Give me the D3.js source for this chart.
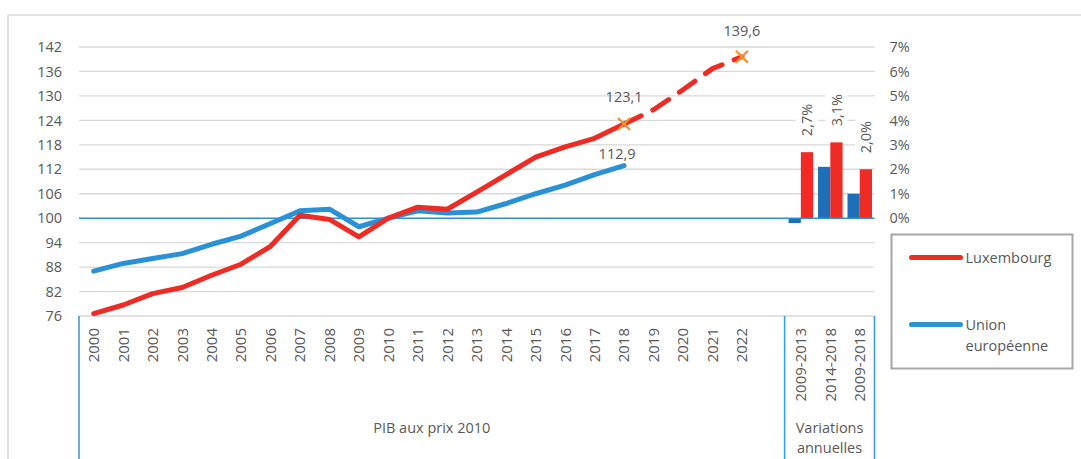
<!DOCTYPE html>
<html>
<head>
<meta charset="utf-8">
<script src="https://cdn.jsdelivr.net/npm/d3@7"></script>
<style>
    body { margin: 0; background: #fff; }
    svg { display: block; font-family: "Open Sans", sans-serif; }
    text { fill: #595959; }
</style>
</head>
<body>
<svg id="chart" width="1081" height="459"></svg>
<script>
// categories on the x axis (one empty slot between the two groups)
const years = ["2000", "2001", "2002", "2003", "2004", "2005", "2006", "2007", "2008", "2009", "2010",
    "2011", "2012", "2013", "2014", "2015", "2016", "2017", "2018", "2019", "2020", "2021", "2022"];
const periods = ["2009-2013", "2014-2018", "2009-2018"];
const categories = years.concat([" "], periods);

// PIB aux prix 2010 (indice 2010 = 100)
const luxValues = [76.6, 78.7, 81.5, 83.0, 86.0, 88.7, 93.1, 100.7, 99.7, 95.4, 100, 102.7, 102.2,
    106.4, 110.7, 115.0, 117.5, 119.6, 123.1, 126.6, 131.5, 136.7, 139.6];
const euValues = [87.0, 88.9, 90.1, 91.3, 93.6, 95.6, 98.7, 101.8, 102.2, 97.9, 100, 101.8, 101.3,
    101.5, 103.6, 106.0, 108.1, 110.7, 112.9];
const lastObserved = "2018";

// variations annuelles (%)
const luxGrowth = [2.7, 3.1, 2.0];
const euGrowth = [-0.2, 2.1, 1.0];

const leftTicks = [76, 82, 88, 94, 100, 106, 112, 118, 124, 130, 136, 142];
const rightTicks = [0, 1, 2, 3, 4, 5, 6, 7];

const red = "#ee2b24", blue = "#2a91d6", barBlue = "#1f6fb8", orange = "#f39230";

const fr = d3.formatLocale({ decimal: ",", thousands: " ", grouping: [3], currency: ["", " €"] });
const fmt1 = fr.format(".1f");

const svg = d3.select("#chart");
const plotLeft = 79, plotRight = 874.5, plotTop = 47, plotBottom = 316;

let x = d3.scaleBand().domain(categories).range([plotLeft, plotRight]);
let y = d3.scaleLinear().domain([76, 142]).range([plotBottom, plotTop]);
let yR = d3.scaleLinear().domain([-4, 7]).range([plotBottom, plotTop]);
let cx = d => x(d) + x.bandwidth() / 2;

// outer frame (only top and left are visible)
svg.append("path")
    .attr("d", `M8,459V15H1081`)
    .attr("fill", "none")
    .attr("stroke", "#d9d9d9")
    .attr("stroke-width", 1.5);

// grid
svg.append("g")
    .selectAll("line")
    .data(leftTicks.filter(d => d !== 100))
    .join("line")
    .attr("x1", plotLeft).attr("x2", plotRight)
    .attr("y1", d => y(d)).attr("y2", d => y(d))
    .attr("stroke", "#d9d9d9")
    .attr("stroke-width", 1.3);

// left axis
let axisL = svg.append("g")
    .attr("transform", `translate(${plotLeft},0)`)
    .call(d3.axisLeft(y).tickValues(leftTicks).tickSize(0).tickPadding(17));
axisL.select(".domain").remove();
axisL.selectAll("text").attr("fill", "#595959").style("font-size", "14.5px").style("font-family", "Open Sans");

// right axis
let axisR = svg.append("g")
    .attr("transform", `translate(${plotRight},0)`)
    .call(d3.axisRight(yR).tickValues(rightTicks).tickSize(0).tickPadding(15).tickFormat(d => d + "%"));
axisR.select(".domain").remove();
axisR.selectAll("text").attr("fill", "#595959").style("font-size", "14.5px").style("font-family", "Open Sans");

// bars (variations annuelles)
let x1 = d3.scaleBand().domain(["eu", "lux"]).range([0, x.bandwidth()]).paddingOuter(0.2);
let barData = periods.map((p, i) => ({ period: p, eu: euGrowth[i], lux: luxGrowth[i] }));

let barGroups = svg.append("g")
    .selectAll("g")
    .data(barData)
    .join("g")
    .attr("transform", d => `translate(${x(d.period)},0)`);

barGroups.selectAll("rect")
    .data(d => [{ key: "eu", v: d.eu }, { key: "lux", v: d.lux }])
    .join("rect")
    .attr("x", d => x1(d.key))
    .attr("width", x1.bandwidth())
    .attr("y", d => yR(Math.max(0, d.v)))
    .attr("height", d => Math.abs(yR(d.v) - yR(0)))
    .attr("fill", d => d.key === "lux" ? red : barBlue);

// baseline 100 / 0%
svg.append("line")
    .attr("x1", plotLeft).attr("x2", plotRight)
    .attr("y1", y(100)).attr("y2", y(100))
    .attr("stroke", blue)
    .attr("stroke-width", 1.5);

// bar labels, rotated with white box
let barLabels = barGroups.append("g")
    .attr("transform", d => `translate(${x1("lux") + x1.bandwidth() / 2},${yR(d.lux) - 16}) rotate(-90)`);
barLabels.append("rect")
    .attr("x", -3).attr("y", -11)
    .attr("width", 40).attr("height", 22)
    .attr("fill", "#fff");
barLabels.append("text")
    .attr("dy", "0.35em")
    .style("font-size", "14.5px")
    .text(d => fmt1(d.lux) + "%");

// lines
let line = d3.line()
    .x((d, i) => cx(years[i]))
    .y(d => y(d));
let lastIdx = years.indexOf(lastObserved);

svg.append("path")
    .attr("d", line(euValues))
    .attr("fill", "none")
    .attr("stroke", blue)
    .attr("stroke-width", 5)
    .attr("stroke-linejoin", "round")
    .attr("stroke-linecap", "round");

svg.append("path")
    .attr("d", line(luxValues.slice(0, lastIdx + 1)))
    .attr("fill", "none")
    .attr("stroke", red)
    .attr("stroke-width", 5)
    .attr("stroke-linejoin", "round")
    .attr("stroke-linecap", "round");

let lineProj = d3.line()
    .x((d, i) => cx(years[i + lastIdx]))
    .y(d => y(d));

svg.append("path")
    .attr("d", lineProj(luxValues.slice(lastIdx)))
    .attr("fill", "none")
    .attr("stroke", red)
    .attr("stroke-width", 5)
    .attr("stroke-linejoin", "round")
    .attr("stroke-linecap", "round")
    .attr("stroke-dasharray", "19,13");

// markers on the Luxembourg line
let marked = [lastIdx, years.length - 1];
svg.append("g")
    .selectAll("path")
    .data(marked)
    .join("path")
    .attr("transform", i => `translate(${cx(years[i])},${y(luxValues[i])})`)
    .attr("d", "M-6,-6L6,6M-6,6L6,-6")
    .attr("stroke", orange)
    .attr("stroke-width", 2.2);

// data labels
let dataLabels = [
    { year: "2018", v: luxValues[lastIdx], dx: 0, dy: -27 },
    { year: "2022", v: luxValues[years.length - 1], dx: 0, dy: -26 },
    { year: "2018", v: euValues[lastIdx], dx: -7, dy: -12 }
];
svg.append("g")
    .selectAll("text")
    .data(dataLabels)
    .join("text")
    .attr("x", d => cx(d.year) + d.dx)
    .attr("y", d => y(d.v) + d.dy)
    .attr("dy", "0.35em")
    .attr("text-anchor", "middle")
    .style("font-size", "14.5px")
    .text(d => fmt1(d.v));

// category labels
let axisB = svg.append("g")
    .attr("transform", `translate(0,${plotBottom})`)
    .call(d3.axisBottom(x).tickSize(0).tickFormat(d => d.trim()));
axisB.select(".domain").remove();
axisB.selectAll("text")
    .attr("transform", "translate(0,12) rotate(-90)")
    .attr("x", 0).attr("y", 0)
    .attr("dy", "0.36em")
    .attr("text-anchor", "end")
    .attr("fill", "#595959")
    .style("font-size", "15px")
    .style("font-family", "Open Sans");

// group separators and group titles
let sepX = [plotLeft, x(" ") + x.bandwidth() - 1.5, plotRight];
svg.append("g")
    .selectAll("line")
    .data(sepX)
    .join("line")
    .attr("x1", d => d).attr("x2", d => d)
    .attr("y1", plotBottom).attr("y2", 459)
    .attr("stroke", "#3a9ddb")
    .attr("stroke-width", 1.6);

svg.append("text")
    .attr("x", (sepX[0] + sepX[1]) / 2)
    .attr("y", 428)
    .attr("dy", "0.35em")
    .attr("text-anchor", "middle")
    .style("font-size", "14.5px")
    .text("PIB aux prix 2010");

svg.append("g")
    .selectAll("text")
    .data(["Variations", "annuelles"])
    .join("text")
    .attr("x", (sepX[1] + sepX[2]) / 2)
    .attr("y", (d, i) => 428 + i * 20)
    .attr("dy", "0.35em")
    .attr("text-anchor", "middle")
    .style("font-size", "14.5px")
    .text(d => d);

// legend
let legend = svg.append("g").attr("transform", "translate(891.5,234.5)");
legend.append("rect")
    .attr("width", 181).attr("height", 134)
    .attr("fill", "#fff")
    .attr("stroke", "#a6a6a6")
    .attr("stroke-width", 2);

let legendItems = [
    { name: ["Luxembourg"], color: red, y: 23 },
    { name: ["Union", "européenne"], color: blue, y: 90 }
];
let items = legend.selectAll("g.item")
    .data(legendItems)
    .join("g")
    .attr("class", "item")
    .attr("transform", d => `translate(0,${d.y})`);
items.append("line")
    .attr("x1", 20).attr("x2", 69)
    .attr("stroke", d => d.color)
    .attr("stroke-width", 5)
    .attr("stroke-linecap", "round");
items.selectAll("text")
    .data(d => d.name)
    .join("text")
    .attr("x", 74)
    .attr("y", (d, i) => i * 21)
    .attr("dy", "0.35em")
    .style("font-size", "14.5px")
    .text(d => d);
</script>
</body>
</html>
